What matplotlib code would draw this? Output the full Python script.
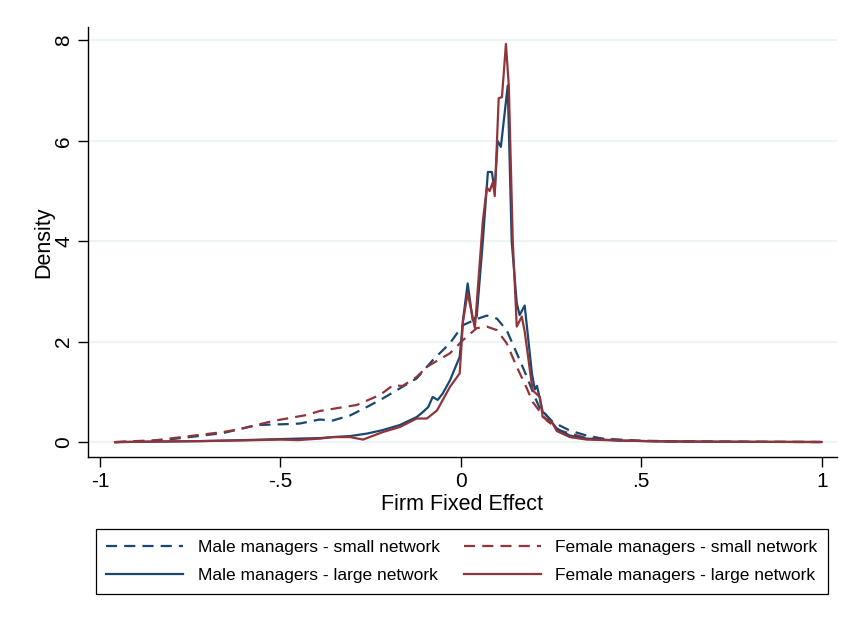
import matplotlib.pyplot as plt
import numpy as np

plt.rcParams['font.family'] = ['Liberation Sans', 'DejaVu Sans']

# Kernel density estimates
male_small_x = [-0.958, -0.85, -0.751, -0.659, -0.565, -0.474, -0.446, -0.391, -0.355,
                -0.307, -0.26, -0.216, -0.169, -0.122, -0.078, -0.03, 0.006, 0.044,
                0.072, 0.100, 0.127, 0.155, 0.183, 0.205, 0.219, 0.255, 0.302, 0.349,
                0.393, 0.488, 0.6, 0.8, 1.0]
male_small_y = [0.0, 0.02, 0.1, 0.18, 0.34, 0.36, 0.37, 0.45, 0.43,
                0.53, 0.7, 0.87, 1.07, 1.27, 1.63, 1.97, 2.33, 2.45,
                2.52, 2.46, 2.23, 1.77, 1.3, 0.9, 0.67, 0.4, 0.23, 0.13,
                0.07, 0.03, 0.015, 0.005, 0.002]

female_small_x = [-0.958, -0.842, -0.751, -0.659, -0.612, -0.521, -0.427, -0.391, -0.288,
                  -0.224, -0.188, -0.161, -0.122, -0.094, -0.03, 0.006, 0.044, 0.072,
                  0.100, 0.127, 0.155, 0.183, 0.199, 0.238, 0.274, 0.349, 0.45, 0.6, 1.0]
female_small_y = [0.0, 0.04, 0.12, 0.2, 0.26, 0.42, 0.54, 0.62, 0.74,
                  0.94, 1.13, 1.12, 1.3, 1.5, 1.77, 2.03, 2.27, 2.3,
                  2.23, 1.97, 1.5, 1.07, 0.8, 0.43, 0.23, 0.08, 0.03, 0.01, 0.002]

male_large_x = [-0.958, -0.85, -0.72, -0.6, -0.5, -0.45, -0.39, -0.355, -0.307, -0.26,
                -0.216, -0.169, -0.122, -0.105, -0.09, -0.078, -0.064, -0.05, -0.03,
                -0.003, 0.006, 0.019, 0.033, 0.044, 0.061, 0.075, 0.086, 0.094, 0.102,
                0.111, 0.130, 0.141, 0.155, 0.163, 0.177, 0.197, 0.205, 0.211, 0.227,
                0.233, 0.252, 0.266, 0.302, 0.349, 0.44, 0.55, 0.7, 0.8, 0.99]
male_large_y = [0.0, 0.01, 0.02, 0.04, 0.06, 0.07, 0.08, 0.1, 0.12, 0.17,
                0.24, 0.34, 0.5, 0.6, 0.7, 0.9, 0.84, 0.97, 1.23,
                1.7, 2.43, 3.16, 2.43, 2.5, 4.0, 5.38, 5.38, 5.0, 6.0,
                5.88, 7.1, 4.0, 2.77, 2.53, 2.72, 1.37, 1.05, 1.12, 0.6,
                0.57, 0.4, 0.27, 0.13, 0.07, 0.03, 0.015, 0.008, 0.005, 0.002]

female_large_x = [-0.958, -0.85, -0.72, -0.6, -0.5, -0.45, -0.39, -0.355, -0.307, -0.271,
                  -0.216, -0.169, -0.122, -0.094, -0.066, -0.03, -0.003, 0.006, 0.019,
                  0.039, 0.061, 0.072, 0.080, 0.089, 0.094, 0.105, 0.114, 0.125, 0.133,
                  0.144, 0.155, 0.169, 0.177, 0.199, 0.219, 0.227, 0.252, 0.266, 0.302,
                  0.349, 0.45, 0.55, 0.7, 1.0]
female_large_y = [0.0, 0.01, 0.02, 0.035, 0.05, 0.04, 0.07, 0.1, 0.1, 0.05,
                  0.2, 0.3, 0.47, 0.47, 0.63, 1.1, 1.37, 2.4, 2.97,
                  2.27, 4.4, 5.07, 5.0, 5.18, 4.9, 6.85, 6.87, 7.93, 7.1,
                  4.0, 2.3, 2.5, 2.2, 1.03, 0.9, 0.5, 0.4, 0.22, 0.1,
                  0.05, 0.03, 0.015, 0.008, 0.002]

x_ticks = [-1, -0.5, 0, 0.5, 1]
x_tick_labels = ['-1', '-.5', '0', '.5', '1']
y_ticks = [0, 2, 4, 6, 8]

navy = '#1a476f'
maroon = '#90353b'
dash = (0, (5, 3.2))

fig = plt.figure(figsize=(8.51, 6.22), dpi=100)
ax = fig.add_axes([0.1034, 0.265, 0.880, 0.691])

l1, = ax.plot(male_small_x, male_small_y, color=navy, lw=1.6, linestyle=dash,
              label='Male managers - small network')
l2, = ax.plot(female_small_x, female_small_y, color=maroon, lw=1.6, linestyle=dash,
              label='Female managers - small network')
l3, = ax.plot(male_large_x, male_large_y, color=navy, lw=1.6,
              label='Male managers - large network')
l4, = ax.plot(female_large_x, female_large_y, color=maroon, lw=1.6,
              label='Female managers - large network')

ax.set_xlim(-1.033, 1.042)
ax.set_ylim(-0.3, 8.26)
ax.set_xticks(x_ticks)
ax.set_xticklabels(x_tick_labels)
ax.set_yticks(y_ticks)
ax.set_yticklabels([str(v) for v in y_ticks], rotation=90, va='center')
ax.tick_params(labelsize=15, length=7, width=1, direction='out', colors='black')
ax.grid(axis='y', color='#eaf2f3', lw=1.2)
ax.set_axisbelow(True)
for s in ['top', 'right']:
    ax.spines[s].set_visible(False)
ax.spines['left'].set_linewidth(1)
ax.spines['bottom'].set_linewidth(1)

ax.set_xlabel('Firm Fixed Effect', fontsize=15.5, labelpad=2)
ax.set_ylabel('Density', fontsize=15.5, labelpad=0)

leg = fig.legend([l1, l3, l2, l4], [l.get_label() for l in [l1, l3, l2, l4]],
                 ncol=2, loc='center', mode='expand', borderaxespad=0,
                 bbox_to_anchor=(96 / 851, 1 - 596 / 622, 732 / 851, 69 / 622),
                 fontsize=12.5, handlelength=4.4, handletextpad=0.85,
                 columnspacing=1.6, borderpad=0.6, labelspacing=0.75,
                 fancybox=False, edgecolor='black', framealpha=1)
leg.get_frame().set_linewidth(0.9)

fig.savefig('out.png', dpi=100)
